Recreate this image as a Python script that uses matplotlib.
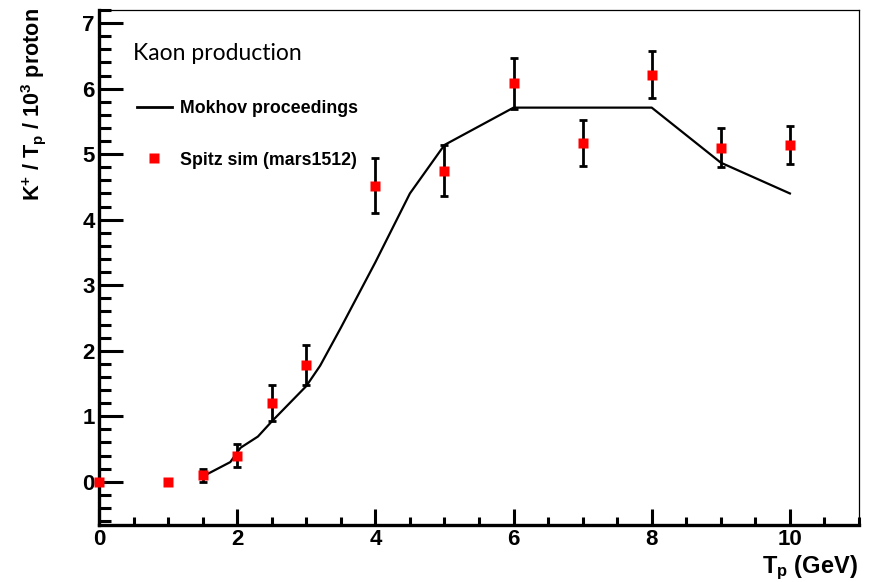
import numpy as np
import matplotlib
matplotlib.use('Agg')
import matplotlib.pyplot as plt
from matplotlib.lines import Line2D
from matplotlib.ticker import MultipleLocator

plt.rcParams['font.family'] = ['Liberation Sans', 'DejaVu Sans']
plt.rcParams['mathtext.fontset'] = 'custom'
plt.rcParams['mathtext.rm'] = 'Liberation Sans:bold'
plt.rcParams['mathtext.bf'] = 'Liberation Sans:bold'
plt.rcParams['mathtext.default'] = 'bf'

# Spitz sim (mars1512)
sim_x = [0, 1, 1.5, 2, 2.5, 3, 4, 5, 6, 7, 8, 9, 10]
sim_y = [0.0, 0.0, 0.10, 0.40, 1.20, 1.78, 4.52, 4.75, 6.08, 5.17, 6.21, 5.10, 5.14]
sim_err = [0, 0, 0.10, 0.17, 0.28, 0.31, 0.42, 0.39, 0.39, 0.35, 0.36, 0.30, 0.29]

# Mokhov proceedings
mok_x = [1.5, 1.9, 2.05, 2.3, 2.5, 3.0, 3.2, 3.5, 4.0, 4.5, 5.0, 6.0, 8.0, 9.0, 10.0]
mok_y = [0.08, 0.30, 0.52, 0.69, 0.92, 1.46, 1.77, 2.35, 3.35, 4.40, 5.14, 5.71, 5.71, 4.87, 4.40]

fig = plt.figure(figsize=(8.72, 5.82), dpi=100)
ax = fig.add_axes([99/872, 57/582, 760/872, 515/582])

ax.plot(mok_x, mok_y, color='black', lw=1.6, zorder=2)

sx = np.array(sim_x); sy = np.array(sim_y); se = np.array(sim_err)
m = se > 0
ax.errorbar(sx[m], sy[m], yerr=se[m], fmt='none', ecolor='black', elinewidth=2,
            capsize=3, capthick=2, zorder=3)
ax.plot(sx, sy, 's', color='#ff0000', ms=7.6, mec='none', zorder=4, clip_on=False)

ax.set_xlim(0, 11)
ax.set_ylim(-0.66, 7.2)
ax.xaxis.set_major_locator(MultipleLocator(2))
ax.xaxis.set_minor_locator(MultipleLocator(0.5))
ax.yaxis.set_major_locator(MultipleLocator(1))
ax.yaxis.set_minor_locator(MultipleLocator(0.2))

ax.tick_params(axis='both', which='both', direction='in', top=False, right=False,
               width=2.2, labelsize=16)
ax.tick_params(axis='y', which='major', length=17, pad=3)
ax.tick_params(axis='y', which='minor', length=8.5)
ax.tick_params(axis='x', which='major', length=11.5, pad=3)
ax.tick_params(axis='x', which='minor', length=5.8)
for lab in ax.get_xticklabels() + ax.get_yticklabels():
    lab.set_fontweight('bold')

ax.spines['left'].set_linewidth(2.4)
ax.spines['bottom'].set_linewidth(2.4)
ax.spines['top'].set_linewidth(0.9)
ax.spines['right'].set_linewidth(0.9)

fig.text(34/872, 1 - 8/582, r'K$^{+}$ / T$_{p}$ / 10$^{3}$ proton', rotation=90,
         ha='center', va='top', fontsize=15.6, fontweight='bold')
fig.text(858/872, 1 - 573/582, r'T$_{p}$ (GeV)', ha='right', va='baseline',
         fontsize=17, fontweight='bold')

ax.text(133/872, 1 - 60/582, 'Kaon production', transform=fig.transFigure,
        fontsize=16.5, family='Lato', va='baseline')

handles = [Line2D([], [], color='black', lw=2),
           Line2D([], [], ls='none', marker='s', color='#ff0000', ms=7.6, mec='none')]
leg = ax.legend(handles, ['Mokhov proceedings', 'Spitz sim (mars1512)'],
                loc='upper left', bbox_to_anchor=(137/872, 1 - 100/582),
                bbox_transform=fig.transFigure, frameon=False, borderpad=0,
                borderaxespad=0, handlelength=1.95, handletextpad=0.45,
                labelspacing=1.95, prop={'weight': 'bold', 'size': 12.8})

fig.savefig('out.png', dpi=100)
